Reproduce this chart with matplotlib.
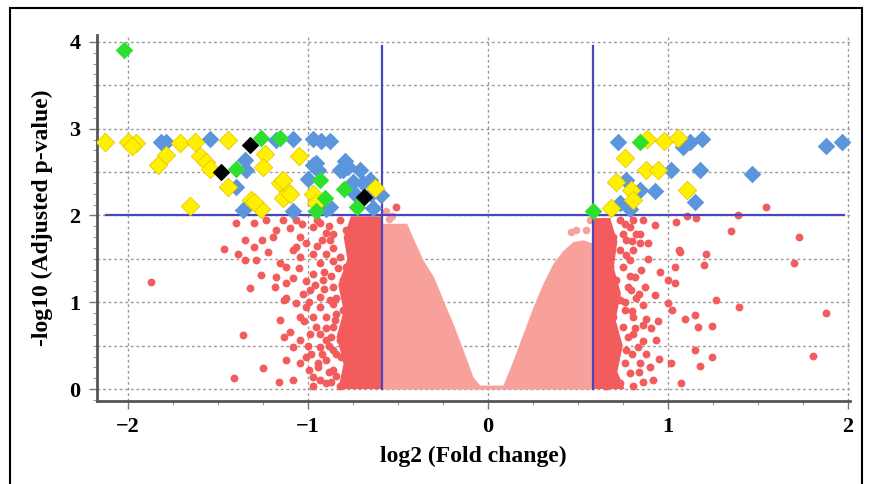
import numpy as np
import matplotlib
matplotlib.use("Agg")
import matplotlib.pyplot as plt
from matplotlib.patches import Rectangle
from matplotlib.ticker import MultipleLocator

plt.rcParams['font.family'] = ['Liberation Serif', 'DejaVu Serif']
plt.rcParams['font.weight'] = 'bold'

# light pink core (non significant fold change): upper edge of the dense cloud
core_x = [-0.585, -0.45, -0.417, -0.36, -0.30, -0.248, -0.193, -0.137, -0.082, -0.044,
          0.085, 0.141, 0.196, 0.252, 0.307, 0.363, 0.419, 0.474, 0.53, 0.585]
core_top = [1.91, 1.91, 1.75, 1.49, 1.29, 1.025, 0.757, 0.45, 0.14, 0.046,
            0.046, 0.334, 0.64, 0.95, 1.22, 1.45, 1.60, 1.70, 1.72, 1.68]
light_x = [-0.563, -0.55, -0.53, 0.465, 0.49, 0.548, 0.57]
light_y = [2.05, 1.96, 1.99, 1.81, 1.83, 1.83, 1.95]

# solid red bands next to the fold-change cut-offs
dense_left_x = [-0.585, -0.585, -0.76, -0.80, -0.78, -0.83, -0.80, -0.84, -0.80, -0.83]
dense_left_y = [0.0, 1.99, 1.99, 1.75, 1.5, 1.2, 0.9, 0.6, 0.3, 0.0]
dense_right_x = [0.585, 0.585, 0.68, 0.72, 0.70, 0.74, 0.71, 0.75, 0.72, 0.76]
dense_right_y = [0.0, 1.97, 1.97, 1.7, 1.4, 1.1, 0.8, 0.5, 0.2, 0.0]

# red points (fold change ok, p-value not)
red_left_x = [-1.868, -1.467, -1.40, -1.359, -1.409, -1.32, -1.248, -1.161, -1.183, -1.133,
              -1.133, -1.35, -1.30, -1.285, -1.348, -1.387, -1.252, -1.22, -1.174, -1.10,
              -1.156, -1.082, -1.118, -1.10, -1.082, -1.118, -1.044, -1.007, -1.026, -0.989,
              -0.97, -0.943, -0.933, -0.952, -0.896, -0.859, -0.878, -0.915, -0.933, -0.97,
              -1.007, -1.044, -0.97, -0.859, -0.822, -0.804, -0.813, -0.859, -0.785, -0.896,
              -0.822, -0.841, -0.767, -1.044, -0.97, -0.896, -0.878, -0.785, -0.933, -0.822,
              -1.063, -1.137, -1.23, -1.30, -1.193, -1.063, -0.989, -0.933, -0.859, -0.785,
              -0.804, -0.896, -0.97, -1.044, -1.063, -0.933, -1.044, -1.007, -0.97, -0.896,
              -0.822, -0.859, -0.785, -0.785, -1.082, -1.156, -1.174, -1.257, -1.118, -0.507,
              -0.95, -0.90, -0.86, -0.91, -0.87, -0.84, -0.93, -0.86, -0.90, -0.87,
              -0.84, -0.92, -0.88, -0.84, -0.93, -0.99, -1.00, -1.02, -0.99, -1.01,
              -1.05, -0.95, -1.08, -1.12, -0.88, -0.83,
              -0.86, -0.91, -0.96, -0.88, -0.94, -0.85, -1.03, -0.92, -0.87, -0.98]
red_left_y = [1.236, 1.61, 1.91, 0.622, 0.13, 1.16, 0.238, 0.084, 1.18, 1.025,
              0.60, 1.72, 1.64, 1.49, 1.49, 1.56, 1.72, 1.58, 1.83, 1.85,
              1.45, 1.275, 1.22, 0.66, 0.49, 0.334, 0.296, 0.95, 1.10, 0.64,
              0.14, 0.257, 0.49, 0.72, 0.56, 0.72, 1.025, 1.256, 1.45, 1.56,
              1.68, 1.75, 1.87, 1.79, 1.52, 1.256, 0.37, 0.22, 0.10, 0.334,
              0.56, 0.87, 1.025, 1.52, 1.33, 1.56, 1.72, 1.83, 1.91, 1.95,
              1.95, 1.95, 1.95, 1.91, 1.75, 1.64, 1.14, 1.06, 1.18, 1.41,
              0.91, 0.83, 0.83, 0.83, 0.99, 0.64, 0.56, 0.37, 0.03, 0.07,
              0.03, 0.45, 0.33, 0.64, 0.10, 0.79, 1.29, 1.31, 1.41, 2.10,
              1.95, 1.80, 1.62, 1.35, 1.30, 1.05, 0.95, 0.98, 0.70, 0.60,
              0.40, 0.40, 0.20, 0.15, 0.10, 0.22, 0.50, 0.78, 1.00, 1.25,
              1.40, 1.65, 1.60, 1.05, 1.88, 1.40,
              1.48, 1.15, 1.20, 0.50, 0.30, 0.80, 1.90, 1.72, 0.08, 0.40]
red_right_x = [0.928, 1.048, 1.107, 1.159, 1.35, 1.728, 1.70, 1.067, 1.215, 1.20,
               0.89, 0.89, 0.854, 0.956, 1.039, 1.0, 1.039, 0.872, 0.928, 0.826,
               0.863, 1.0, 1.026, 1.27, 1.396, 1.88, 1.094, 1.15, 1.168, 1.246,
               0.946, 0.909, 0.863, 0.937, 1.15, 1.246, 0.952, 1.02, 1.178, 1.804,
               1.076, 0.918, 0.90, 0.844, 0.835, 0.807, 0.881, 0.807, 0.78, 0.817,
               0.752, 0.789, 0.807, 0.844, 0.77, 0.844, 0.789, 0.733, 0.807, 0.752,
               0.696, 0.733, 0.678, 0.715, 0.733, 0.696, 0.752, 0.715, 0.77, 0.696,
               0.789, 0.733, 0.659, 0.807, 0.863, 0.826, 0.863, 0.761, 0.798, 1.39,
               1.06, 1.548,
               0.79, 0.76, 0.80, 0.78, 0.82, 0.76, 0.80, 0.84, 0.77, 0.80,
               0.76, 0.84, 0.86, 0.88]
red_right_y = [1.89, 1.93, 1.99, 1.97, 1.82, 1.75, 1.45, 1.58, 1.56, 1.43,
               1.68, 1.50, 1.37, 1.35, 1.41, 1.256, 1.22, 1.18, 1.08, 1.045,
               0.97, 0.99, 0.91, 1.025, 0.94, 0.88, 0.81, 0.85, 0.72, 0.73,
               0.78, 0.70, 0.74, 0.56, 0.45, 0.37, 0.35, 0.296, 0.27, 0.38,
               0.065, 0.10, 0.257, 0.296, 0.49, 0.64, 0.81, 0.83, 1.18, 1.29,
               1.41, 1.49, 1.60, 1.68, 1.72, 1.79, 1.87, 1.95, 1.95, 1.79,
               1.75, 1.60, 1.41, 1.256, 1.025, 0.83, 0.72, 0.56, 0.45, 0.334,
               0.18, 0.065, 0.03, 0.03, 0.084, 1.79, 1.95, 0.91, 1.14, 2.01,
               1.60, 2.10,
               1.30, 1.00, 0.90, 0.60, 0.70, 0.30, 0.40, 0.20, 1.55, 1.70,
               1.90, 1.10, 0.55, 0.40]

# significant genes by category
yellow_x = [-2.128, -1.998, -1.952, -1.975, -1.711, -1.83, -1.785, -1.628, -1.60, -1.563,
            -1.544, -1.443, -1.443, -1.239, -1.248, -1.156, -1.11, -1.656, -1.313, -1.257,
            -1.137, -1.10, -1.05, -0.97, -0.952, -0.628, -1.30, -1.137,
            0.885, 0.978, 1.057, 0.761, 0.881, 0.946, 0.715, 0.798, 1.104, 0.807, 0.687]
yellow_y = [2.85, 2.85, 2.83, 2.80, 2.83, 2.58, 2.70, 2.85, 2.68, 2.62,
            2.54, 2.87, 2.33, 2.71, 2.56, 2.37, 2.27, 2.11, 2.18, 2.08,
            2.20, 2.25, 2.69, 2.25, 2.14, 2.32, 2.16, 2.41,
            2.88, 2.86, 2.89, 2.66, 2.52, 2.52, 2.39, 2.29, 2.29, 2.18, 2.09]
blue_x = [-1.813, -1.785, -1.544, -1.396, -1.35, -1.341, -1.36, -1.174, -1.08, -0.97,
          -0.924, -0.878, -0.952, -0.97, -0.943, -0.998, -0.896, -1.08, -0.878, -0.794,
          -0.776, -0.804, -0.822, -0.711, -0.656, -0.748, -0.693, -0.739, -0.646, -0.637,
          -0.59,
          0.724, 1.085, 1.122, 1.19, 1.02, 1.178, 1.47, 0.77, 0.844, 0.931, 0.733, 0.789,
          1.15, 1.876, 1.97]
blue_y = [2.85, 2.85, 2.88, 2.33, 2.64, 2.52, 2.06, 2.87, 2.88, 2.88,
          2.86, 2.86, 2.60, 2.58, 2.52, 2.42, 2.08, 2.05, 2.10, 2.63,
          2.56, 2.52, 2.52, 2.52, 2.41, 2.38, 2.37, 2.25, 2.25, 2.09,
          2.23,
          2.85, 2.79, 2.85, 2.88, 2.52, 2.52, 2.48, 2.41, 2.29, 2.28, 2.14, 2.08,
          2.16, 2.80, 2.85]
green_x = [-2.022, -1.396, -1.257, -1.156, -0.933, -0.906, -0.952, -0.80, -0.725, 0.844, 0.585]
green_y = [3.91, 2.53, 2.89, 2.89, 2.41, 2.20, 2.05, 2.31, 2.10, 2.85, 2.05]
black_x = [-1.48, -1.32, -0.686]
black_y = [2.50, 2.81, 2.21]

fc_cut = np.log2(1.5)
p_cut = 2.0

fig = plt.figure(figsize=(8.7, 4.84), dpi=100)
ax = fig.add_axes([0.1115, 0.1725, 0.8655, 0.755])

for gx in [-2, -1, 0, 1, 2]:
    ax.axvline(gx, color='#9a9a9a', lw=1.0, ls=(0, (2, 2)), zorder=0)
for gy in np.arange(0, 4.01, 0.5):
    ax.axhline(gy, color='#9a9a9a', lw=1.0, ls=(0, (2, 2)), zorder=0)

ax.fill_between(core_x, 0, core_top, color='#f8a09c', lw=0, zorder=1)
ax.scatter(light_x, light_y, s=30, color='#f8a09c', lw=0, zorder=1)
ax.fill(dense_left_x, dense_left_y, color='#f25c5c', lw=0, zorder=1)
ax.fill(dense_right_x, dense_right_y, color='#f25c5c', lw=0, zorder=1)
ax.scatter(red_left_x, red_left_y, s=32, color='#f25c5c', lw=0, zorder=2)
ax.scatter(red_right_x, red_right_y, s=32, color='#f25c5c', lw=0, zorder=2)

ax.plot([-2.12, 1.98], [p_cut, p_cut], color='#4848bc', lw=1.6, zorder=3)
ax.plot([-fc_cut, -fc_cut], [0, 3.95], color='#4848bc', lw=1.6, zorder=3)
ax.plot([fc_cut, fc_cut], [0, 3.95], color='#4848bc', lw=1.6, zorder=3)

ax.scatter(blue_x, blue_y, s=80, marker='D', color='#5b95dc', lw=0, zorder=4)
ax.scatter(yellow_x, yellow_y, s=88, marker='D', color='#fff000', edgecolor='#e8c800', lw=0.6, zorder=5)
ax.scatter(green_x, green_y, s=80, marker='D', color='#2ee02e', lw=0, zorder=6)
ax.scatter(black_x, black_y, s=80, marker='D', color='black', lw=0, zorder=6)

ax.set_xlim(-2.17, 2.012)
ax.set_ylim(-0.132, 4.078)
ax.set_xticks([-2, -1, 0, 1, 2])
ax.set_yticks([0, 1, 2, 3, 4])
ax.xaxis.set_minor_locator(MultipleLocator(0.25))
ax.yaxis.set_minor_locator(MultipleLocator(0.125))
ax.tick_params(which='major', length=6, width=1, color='#777777', labelsize=16, pad=6)
ax.tick_params(which='minor', length=3, width=0.8, color='#999999')

for side in ['top', 'right']:
    ax.spines[side].set_visible(False)
for side in ['left', 'bottom']:
    ax.spines[side].set_color('#555555')
    ax.spines[side].set_linewidth(2)

ax.set_xlabel('log2 (Fold change)', fontsize=17, fontweight='bold', labelpad=6)
ax.set_ylabel('-log10 (Adjusted p-value)', fontsize=17, fontweight='bold', labelpad=12)

fig.patches.append(Rectangle((10 / 870, -0.05), 852 / 870, 1 - 8 / 484 + 0.05,
                             transform=fig.transFigure, fill=False, ec='black', lw=1.5))

fig.savefig('out.png', dpi=100)
